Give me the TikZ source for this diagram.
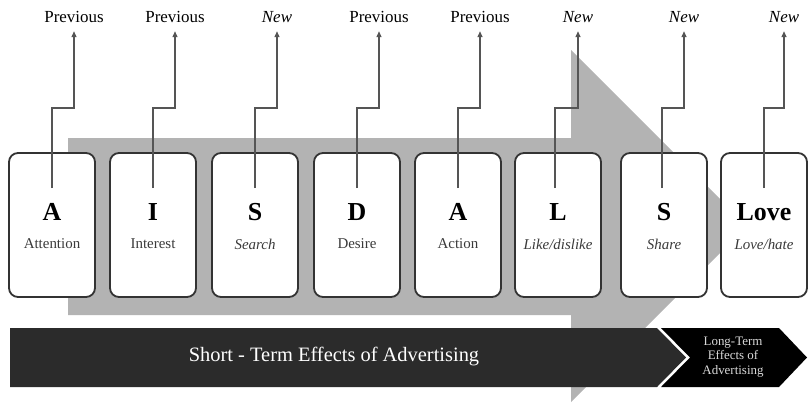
\documentclass[tikz,border=0pt]{standalone}
\usepackage{fontspec}
\setmainfont{Liberation Serif}
\usetikzlibrary{arrows.meta, calc}
\definecolor{cshade}{HTML}{B3B3B3}
\definecolor{cbar}{HTML}{2B2B2B}
\definecolor{cedge}{HTML}{333333}
\definecolor{cwire}{HTML}{555555}
\definecolor{csub}{HTML}{3A3A3A}
\tikzset{
  card/.style={draw=cedge, fill=white, rounded corners=9bp, line width=1.8bp, minimum width=86bp, minimum height=144bp, inner sep=0pt},
  ltr/.style={font=\fontsize{26}{28}\selectfont\bfseries, inner sep=0pt},
  sub/.style={font=\fontsize{15}{17}\selectfont, text=csub, inner sep=0pt},
  tag/.style={font=\fontsize{17}{19}\selectfont, text height=12bp, text depth=0pt, inner sep=1bp},
  wire/.style={draw=cwire, line width=1.3bp, -{Triangle[length=6bp, width=5bp]}, shorten >=8bp},
  bartext/.style={font=\fontsize{20.5}{22}\selectfont, text=white},
  longtext/.style={font=\fontsize{13}{14.5}\selectfont, text=white!85!black, align=center},
}
\begin{document}
\begin{tikzpicture}[x=1bp, y=-1bp]
  \useasboundingbox (0,0) rectangle (808,405);
  % big shaded arrow behind the cards
  \fill[cshade] (68,138) -- (571,138) -- (571,50) -- (747,226) -- (571,402) -- (571,315) -- (68,315) -- cycle;

  % cards
  \node[card] (cA) at (52,225) {};
  \node[card] (cI) at (153,225) {};
  \node[card] (cS) at (255,225) {};
  \node[card] (cD) at (357,225) {};
  \node[card] (cAc) at (458,225) {};
  \node[card] (cL) at (558,225) {};
  \node[card] (cSh) at (664,225) {};
  \node[card] (cLv) at (764,225) {};

  \node[ltr] (lA) at (52,212) {A};      \node[sub] (sA) at (52,244) {Attention};
  \node[ltr] (lI) at (153,212) {I};     \node[sub] (sI) at (153,244) {Interest};
  \node[ltr] (lS) at (255,212) {S};     \node[sub] (sS) at (255,244) {\itshape Search};
  \node[ltr] (lD) at (357,212) {D};     \node[sub] (sD) at (357,244) {Desire};
  \node[ltr] (lAc) at (458,212) {A};    \node[sub] (sAc) at (458,244) {Action};
  \node[ltr] (lL) at (558,212) {L};     \node[sub] (sL) at (558,244) {\itshape Like/dislike};
  \node[ltr] (lSh) at (664,212) {S};    \node[sub] (sSh) at (664,244) {\itshape Share};
  \node[ltr] (lLv) at (764,212) {Love}; \node[sub] (sLv) at (764,244) {\itshape Love/hate};

  % top tags
  \node[tag] (pA) at (74,16) {Previous};
  \node[tag] (pI) at (175,16) {Previous};
  \node[tag] (pS) at (277,16) {\itshape New};
  \node[tag] (pD) at (379,16) {Previous};
  \node[tag] (pAc) at (480,16) {Previous};
  \node[tag] (pL) at (578,16) {\itshape New};
  \node[tag] (pSh) at (684,16) {\itshape New};
  \node[tag] (pLv) at (784,16) {\itshape New};

  \draw[wire] ([yshift=37bp]cA.center) -- ++(0,-80) -| (pA.south);
  \draw[wire] ([yshift=37bp]cI.center) -- ++(0,-80) -| (pI.south);
  \draw[wire] ([yshift=37bp]cS.center) -- ++(0,-80) -| (pS.south);
  \draw[wire] ([yshift=37bp]cD.center) -- ++(0,-80) -| (pD.south);
  \draw[wire] ([yshift=37bp]cAc.center) -- ++(0,-80) -| (pAc.south);
  \draw[wire] ([yshift=37bp,xshift=-3bp]cL.center) -- ++(0,-80) -| (pL.south);
  \draw[wire] ([yshift=37bp,xshift=-2bp]cSh.center) -- ++(0,-80) -| (pSh.south);
  \draw[wire] ([yshift=37bp]cLv.center) -- ++(0,-80) -| (pLv.south);

  % effects bar
  \fill[cbar] (10,328) -- (657,328) -- (686,357.5) -- (657,387) -- (10,387) -- cycle;
  \fill[black] (661,328) -- (779,328) -- (807,357.5) -- (779,387) -- (661,387) -- (690,357.5) -- cycle;
  \node[bartext] (st) at (334,357) {Short - Term Effects of Advertising};
  \node[longtext] (lt) at (733,357) {Long-Term\\Effects of\\Advertising};
\end{tikzpicture}
\end{document}
